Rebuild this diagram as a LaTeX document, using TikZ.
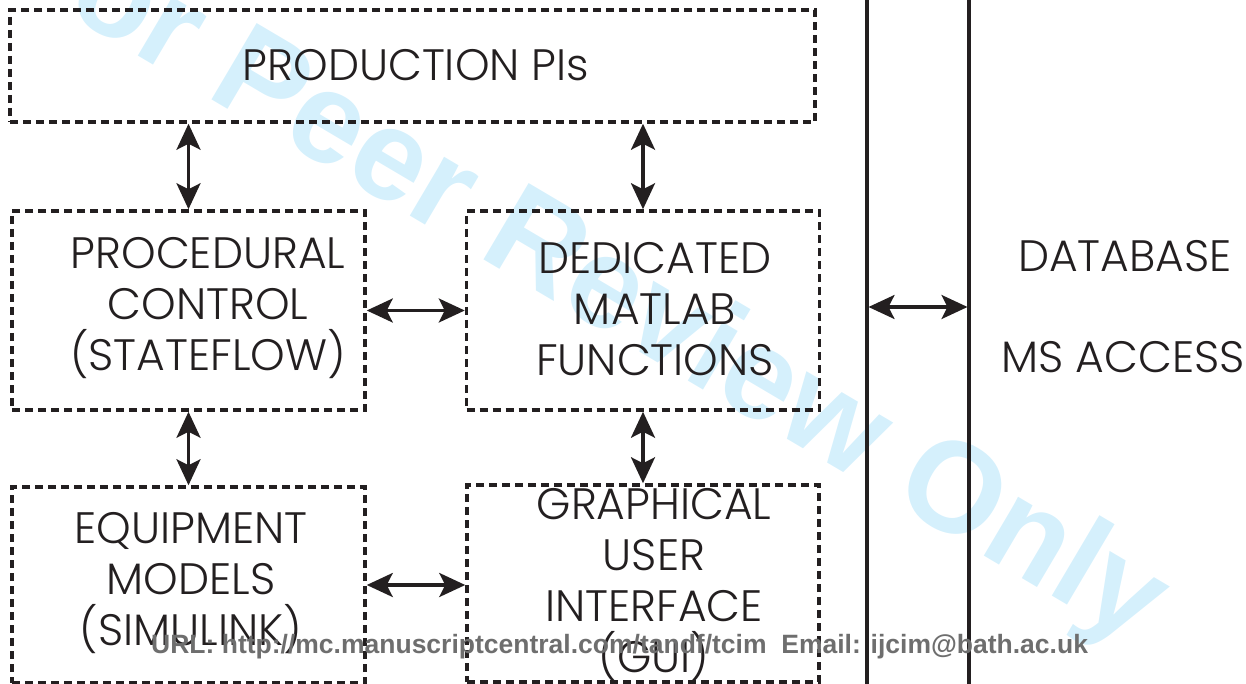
\documentclass[tikz,border=0pt]{standalone}
\usepackage{fontspec}
\setmainfont{Poppins Light}
\newfontfamily\wmfont{Liberation Sans}
\usetikzlibrary{arrows.meta}
\definecolor{inkblack}{RGB}{35,31,32}
\definecolor{wmblue}{RGB}{213,240,252}
\definecolor{urlgray}{RGB}{110,110,110}
\def\boxfont{\fontsize{44}{51}\selectfont}

\begin{document}
\begin{tikzpicture}[x=1pt,y=-1pt,
	dbox/.style={draw=inkblack,line width=3.5pt,dash pattern=on 8pt off 5pt,inner sep=0pt},
	txt/.style={align=center,font=\boxfont,text=inkblack,inner sep=0pt},
	biarrow/.style={{Stealth[length=26pt,width=24pt,inset=6pt]}-{Stealth[length=26pt,width=24pt,inset=6pt]},line width=3.2pt,draw=inkblack}]
	\useasboundingbox (0,0) rectangle (1246,684);
	\node[rotate=-30.6,anchor=base west,inner sep=0pt,text=wmblue,font=\wmfont\bfseries\fontsize{129}{129}\selectfont] (wm) at (-5,-29) {For Peer Review Only};
	\node[dbox,minimum width=805pt,minimum height=112pt] (prod) at (412.5,66) {};
	\node[dbox,minimum width=353pt,minimum height=199pt] (proc) at (188.5,310.5) {};
	\node[dbox,minimum width=353pt,minimum height=199pt] (ded) at (643,310.5) {};
	\node[dbox,minimum width=353pt,minimum height=196pt] (equip) at (188.5,585) {};
	\node[dbox,minimum width=352pt,minimum height=197pt] (gui) at (643,583.5) {};
	\node[txt] (prodT) at (416,65) {PRODUCTION PIs};
	\node[txt] (procT) at (208,308) {PROCEDURAL\\CONTROL\\(STATEFLOW)};
	\node[txt] (dedT) at (655,309) {DEDICATED\\MATLAB\\FUNCTIONS};
	\node[txt] (equipT) at (191,583) {EQUIPMENT\\MODELS\\(SIMULINK)};
	\node[txt] (guiT) at (654,585) {GRAPHICAL\\USER\\INTERFACE\\(GUI)};
	\node[txt] (dbT) at (1125,256) {DATABASE};
	\node[txt] (msT) at (1123,357) {MS ACCESS};
	\coordinate (busLtop) at (867,0);
	\coordinate (busLbot) at (867,684);
	\coordinate (busRtop) at (969,0);
	\coordinate (busRbot) at (969,684);
	\coordinate (busL) at (868.5,307);
	\coordinate (busR) at (967.5,307);
	\draw[line width=3.5pt,draw=inkblack] (busLtop) -- (busLbot);
	\draw[line width=3.5pt,draw=inkblack] (busRtop) -- (busRbot);
	\draw[biarrow] (prod.south -| proc.north) -- (proc.north);
	\draw[biarrow] (prod.south -| ded.north) -- (ded.north);
	\draw[biarrow] (proc.east) -- (ded.west);
	\draw[biarrow] (proc.south) -- (equip.north);
	\draw[biarrow] (ded.south) -- (gui.north);
	\draw[biarrow] (equip.east) -- (equip.east -| gui.west);
	\draw[biarrow] (busL) -- (busR);
	\node[anchor=base west,inner sep=0pt,text=urlgray,font=\wmfont\bfseries\fontsize{26.5}{26.5}\selectfont] (url) at (151,653) {URL: http://mc.manuscriptcentral.com/tandf/tcim\ \ Email: ijcim@bath.ac.uk};
\end{tikzpicture}
\end{document}
